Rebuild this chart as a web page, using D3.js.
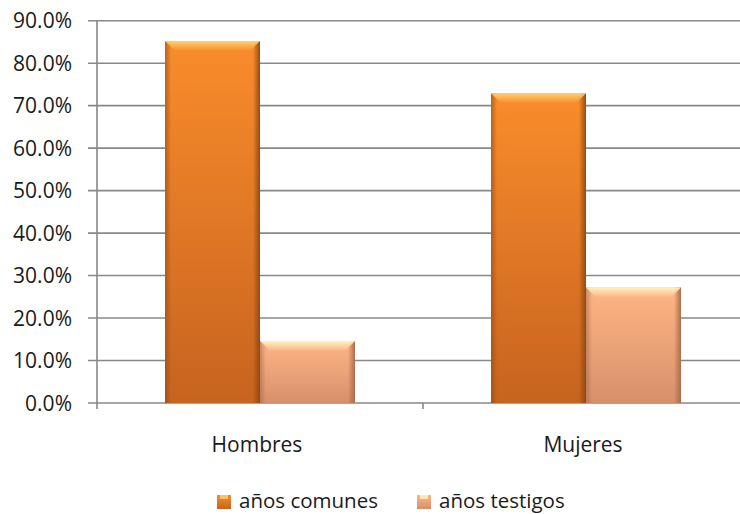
<!DOCTYPE html>
<html><head><meta charset="utf-8">
<script src="https://cdn.jsdelivr.net/npm/d3@7"></script>
<style>body{margin:0;background:#fff}svg{display:block}text{font-family:"Open Sans",sans-serif;fill:#1a1a1a}</style>
</head><body>
<svg id="c" width="740" height="514"></svg>
<script>
const categories = ["Hombres", "Mujeres"];
const seriesNames = ["años comunes", "años testigos"];
const comunes = [0.852, 0.729];
const testigos = [0.146, 0.272];
const yTicks = [0, 0.1, 0.2, 0.3, 0.4, 0.5, 0.6, 0.7, 0.8, 0.9];

const values = [comunes, testigos];
const data = categories.map((c, i) => ({cat: c, vals: seriesNames.map((s, j) => ({s, j, v: values[j][i]}))}));

const svg = d3.select("#c");
const W = 740, H = 514;
const pLeft = 97, pRight = 749, pTop = 20.7, pBottom = 403;
const y = d3.scaleLinear().domain([0, 0.9]).range([pBottom, pTop]);
const x0 = d3.scaleBand().domain(categories).range([pLeft, pRight]).padding(0);
const x1 = d3.scaleBand().domain(seriesNames).range([0, x0.bandwidth()]).paddingInner(0).paddingOuter(0.716);

const pal = [
  {top: "#F98C2B", bot: "#C6631F", edge: "#8E4712", hi: "#FFCF70"},
  {top: "#FFB685", bot: "#D68F6A", edge: "#A8694A", hi: "#FFF2C0"}
];
const defs = svg.append("defs");
pal.forEach((p, i) => {
  const g = defs.append("linearGradient").attr("id", "g" + i).attr("x1", 0).attr("y1", 0).attr("x2", 0).attr("y2", 1);
  g.append("stop").attr("offset", 0).attr("stop-color", p.top);
  g.append("stop").attr("offset", 1).attr("stop-color", p.bot);
  const h = defs.append("linearGradient").attr("id", "h" + i).attr("x1", 0).attr("y1", 0).attr("x2", 0).attr("y2", 1);
  h.append("stop").attr("offset", 0).attr("stop-color", p.hi).attr("stop-opacity", 1);
  h.append("stop").attr("offset", 1).attr("stop-color", p.hi).attr("stop-opacity", 0);
  const r = defs.append("linearGradient").attr("id", "r" + i).attr("x1", 0).attr("y1", 0).attr("x2", 1).attr("y2", 0);
  r.append("stop").attr("offset", 0).attr("stop-color", p.edge).attr("stop-opacity", 0);
  r.append("stop").attr("offset", 1).attr("stop-color", p.edge).attr("stop-opacity", 0.95);
  const l = defs.append("linearGradient").attr("id", "l" + i).attr("x1", 0).attr("y1", 0).attr("x2", 1).attr("y2", 0);
  l.append("stop").attr("offset", 0).attr("stop-color", p.edge).attr("stop-opacity", 0.6);
  l.append("stop").attr("offset", 1).attr("stop-color", p.edge).attr("stop-opacity", 0);
});

// gridlines
svg.append("g").selectAll("line").data(yTicks).join("line")
  .attr("x1", pLeft - 9).attr("x2", W).attr("y1", d => y(d)).attr("y2", d => y(d))
  .attr("stroke", "#888").attr("stroke-width", 1.6);
// y axis line
svg.append("line").attr("x1", pLeft).attr("x2", pLeft).attr("y1", pTop).attr("y2", pBottom + 6)
  .attr("stroke", "#888").attr("stroke-width", 1.6);
// x category ticks
svg.append("g").selectAll("line").data(categories.slice(1)).join("line")
  .attr("x1", d => x0(d)).attr("x2", d => x0(d)).attr("y1", pBottom).attr("y2", pBottom + 6)
  .attr("stroke", "#888").attr("stroke-width", 1.6);

// y labels
svg.append("g").selectAll("text").data(yTicks).join("text")
  .attr("x", 72).attr("y", d => y(d)).attr("dy", "0.36em").attr("text-anchor", "end")
  .attr("font-size", 21).text(d => d3.format(".1%")(d));

// bars
const groups = svg.append("g").selectAll("g").data(data).join("g")
  .attr("transform", d => `translate(${x0(d.cat)},0)`);
const bars = groups.selectAll("g").data(d => d.vals).join("g");
bars.append("rect")
  .attr("x", d => x1(d.s)).attr("width", x1.bandwidth())
  .attr("y", d => y(d.v)).attr("height", d => y(0) - y(d.v))
  .attr("fill", d => `url(#g${d.j})`);
// side shading
bars.append("rect").attr("x", d => x1(d.s) + x1.bandwidth() - 7).attr("width", 7)
  .attr("y", d => y(d.v)).attr("height", d => y(0) - y(d.v))
  .attr("fill", d => `url(#r${d.j})`);
bars.append("rect").attr("x", d => x1(d.s)).attr("width", 6)
  .attr("y", d => y(d.v)).attr("height", d => y(0) - y(d.v))
  .attr("fill", d => `url(#l${d.j})`);
// top bevel
bars.append("path").attr("fill", d => `url(#h${d.j})`)
  .attr("d", d => {
    const a = x1(d.s), b = a + x1.bandwidth(), t = y(d.v), e = 10;
    return `M${a},${t}L${b},${t}L${b - e},${t + e}L${a + e},${t + e}Z`;
  });

// category labels
svg.append("g").selectAll("text").data(categories).join("text")
  .attr("x", d => x0(d) + x0.bandwidth() / 2 - 3).attr("y", 452).attr("text-anchor", "middle")
  .attr("font-size", 21).text(d => d);

// legend
const leg = svg.append("g");
const lx = [217, 417];
seriesNames.forEach((s, j) => {
  leg.append("rect").attr("x", lx[j]).attr("y", 495).attr("width", 14).attr("height", 14)
    .attr("fill", `url(#g${j})`);
  leg.append("rect").attr("x", lx[j] + 3).attr("y", 495).attr("width", 8).attr("height", 4)
    .attr("fill", pal[j].hi).attr("opacity", 0.8);
  leg.append("text").attr("x", lx[j] + 22).attr("y", 508).attr("font-size", 20.5).text(s);
});
</script>
</body></html>
